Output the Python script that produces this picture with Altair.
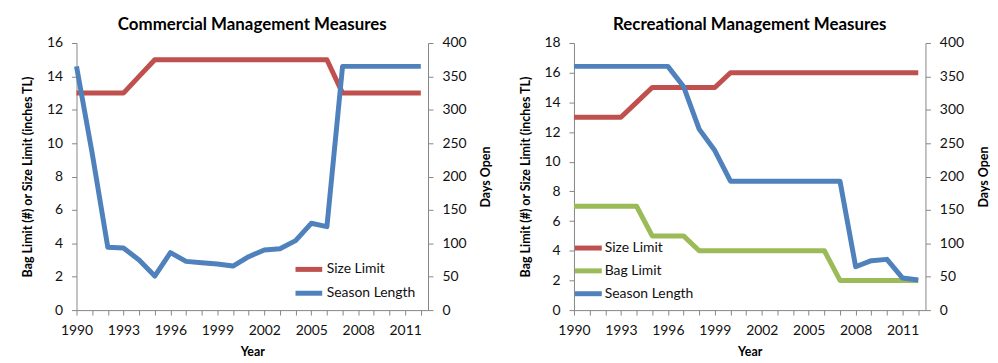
import altair as alt
import pandas as pd

years = list(range(1990, 2013))

# Commercial
com_series = ["Size Limit", "Season Length"]
com_size = [13, 13, 13, 13, 14, 15, 15, 15, 15, 15, 15, 15, 15, 15, 15, 15, 15, 13, 13, 13, 13, 13, 13]
com_season = [365, 235, 94, 93, 75, 51, 86, 73, 71, 69, 66, 80, 90, 92, 104, 130, 125, 365, 365, 365, 365, 365, 365]

# Recreational
rec_series = ["Size Limit", "Bag Limit", "Season Length"]
rec_size = [13, 13, 13, 13, 14, 15, 15, 15, 15, 15, 16, 16, 16, 16, 16, 16, 16, 16, 16, 16, 16, 16, 16]
rec_bag = [7, 7, 7, 7, 7, 5, 5, 5, 4, 4, 4, 4, 4, 4, 4, 4, 4, 2, 2, 2, 2, 2, 2]
rec_season = [365, 365, 365, 365, 365, 365, 365, 335, 271, 239, 193, 193, 193, 193, 193, 193, 193, 193, 65, 74, 76, 48, 45]

RED, GREEN, BLUE = "#C0504D", "#9BBB59", "#4F81BD"

FONT = "Lato"
AX_COL = "#868686"


def long_df(series_dict):
    rows = []
    for name, vals in series_dict.items():
        for y, v in zip(years, vals):
            rows.append({"Year": y, "Series": name, "Value": v})
    return pd.DataFrame(rows)


def panel(title, left_dict, right_dict, y_max, order, colors, lx, ly, sym_size, sym_path):
    x = alt.X(
        "Year:Q",
        scale=alt.Scale(domain=[1990, 2012.46], nice=False, zero=False),
        axis=alt.Axis(
            values=years,
            labelExpr="(datum.value - 1990) % 3 == 0 ? datum.value : ''",
            title="Year",
            labelPadding=9,
            titlePadding=8,
            labelFlush=False,
            labelOverlap=False,
        ),
    )
    legend = alt.Legend(
        title=None,
        orient="none",
        legendX=lx,
        legendY=ly,
        symbolType=sym_path,
        symbolSize=sym_size,
        symbolStrokeWidth=5,
        symbolFillColor="transparent",
        labelFont=FONT,
        labelFontSize=14,
        labelColor="#111111",
        labelOffset=4,
        rowPadding=0,
        padding=0,
    )
    color = alt.Color(
        "Series:N",
        scale=alt.Scale(domain=order, range=colors),
        sort=order,
        legend=legend,
    )
    left = (
        alt.Chart(long_df(left_dict))
        .mark_line(strokeWidth=5, strokeJoin="round")
        .encode(
            x=x,
            y=alt.Y(
                "Value:Q",
                scale=alt.Scale(domain=[0, y_max], nice=False),
                axis=alt.Axis(
                    orient="left",
                    values=list(range(0, y_max + 1, 2)),
                    title="Bag Limit (#) or Size Limit (inches TL)",
                    labelPadding=9,
                    titlePadding=12,
                ),
            ),
            color=color,
        )
    )
    right = (
        alt.Chart(long_df(right_dict))
        .mark_line(strokeWidth=5, strokeJoin="round")
        .encode(
            x=x,
            y=alt.Y(
                "Value:Q",
                scale=alt.Scale(domain=[0, 400], nice=False),
                axis=alt.Axis(
                    orient="right",
                    values=list(range(0, 401, 50)),
                    title="Days Open",
                    titleAngle=270,
                    labelPadding=9,
                    titlePadding=27,
                ),
            ),
            color=color,
        )
    )
    return (
        alt.layer(left, right, title=alt.Title(title))
        .resolve_scale(y="independent")
        .properties(width=354, height=269)
    )


p1 = panel(
    "Commercial Management Measures",
    {"Size Limit": com_size},
    {"Season Length": com_season},
    16,
    com_series,
    [RED, BLUE],
    220,
    214,
    529,
    "M-1.17,0H1.17",
)
p2 = panel(
    "Recreational Management Measures",
    {"Size Limit": rec_size, "Bag Limit": rec_bag},
    {"Season Length": rec_season},
    18,
    rec_series,
    [RED, GREEN, BLUE],
    2,
    194,
    400,
    "M-1.35,0H1.35",
)

chart = (
    alt.hconcat(p1, p2, spacing=26)
    .resolve_scale(color="independent")
    .resolve_legend(color="independent")
    .properties(padding={"left": 13, "top": 7, "right": 0, "bottom": 0})
    .configure_view(stroke=None)
    .configure_axis(
        labelFont=FONT,
        labelFontSize=14,
        labelColor="#111111",
        titleFont=FONT,
        titleFontSize=12.5,
        titleFontWeight="bold",
        titleColor="#000000",
        domainColor=AX_COL,
        tickColor=AX_COL,
        tickSize=5,
        grid=False,
    )
    .configure_title(font=FONT, fontSize=17, fontWeight="bold", color="#000000", anchor="middle", offset=2)
)

chart.save("out.html", embed_options={"renderer": "svg", "actions": False})
